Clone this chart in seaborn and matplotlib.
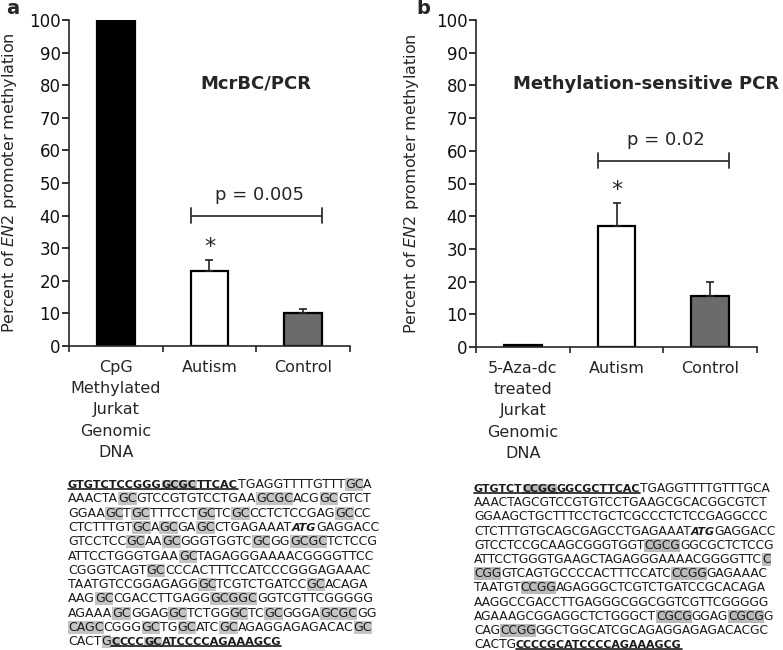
import numpy as np
import pandas as pd
import matplotlib
matplotlib.use('Agg')
import matplotlib.pyplot as plt
import seaborn as sns
from matplotlib.lines import Line2D
from matplotlib.transforms import IdentityTransform

# panel a : McrBC/PCR
cats_a = ['CpG\nMethylated\nJurkat\nGenomic\nDNA', 'Autism', 'Control']
vals_a = [100, 23, 10]
errs_a = [0, 3.5, 1.5]

# panel b : methylation-sensitive PCR
cats_b = ['5-Aza-dc\ntreated\nJurkat\nGenomic\nDNA', 'Autism', 'Control']
vals_b = [0.6, 37, 15.5]
errs_b = [0, 7, 4.5]

bar_colors = ['#000000', '#ffffff', '#6b6b6b']
yticks = [0, 10, 20, 30, 40, 50, 60, 70, 80, 90, 100]

# sequences: [..] shaded, _.._ bold underlined primer, *..* bold italic
seq_a = [
    '_GTGTCTCCGGG[GCGC]TTCAC_TGAGGTTTTGTTT[GC]A',
    'AAACTA[GC]GTCCGTGTCCTGAA[GCGC]ACG[GC]GTCT',
    'GGAA[GC]T[GC]TTTCCT[GC]TC[GC]CCTCTCCGAG[GC]CC',
    'CTCTTTGT[GC]A[GC]GA[GC]CTGAGAAAT*ATG*GAGGACC',
    'GTCCTCC[GC]AA[GC]GGGTGGTC[GC]GG[GCGC]TCTCCG',
    'ATTCCTGGGTGAA[GC]TAGAGGGAAAACGGGGTTCC',
    'CGGGTCAGT[GC]CCCACTTTCCATCCCGGGAGAAAC',
    'TAATGTCCGGAGAGG[GC]TCGTCTGATCC[GC]ACAGA',
    'AAG[GC]CGACCTTGAGG[GCGGC]GGTCGTTCGGGGG',
    'AGAAA[GC]GGAG[GC]TCTGG[GC]TC[GC]GGGA[GCGC]GG',
    '[CAGC]CGGG[GC]TG[GC]ATC[GC]AGAGGAGAGACAC[GC]',
    'CACT[G_C]CCC[GC]ATCCCCAGAAAGCG_',
]
seq_b = [
    '_GTGTCT[CCGG]GGCGCTTCAC_TGAGGTTTTGTTTGCA',
    'AAACTAGCGTCCGTGTCCTGAAGCGCACGGCGTCT',
    'GGAAGCTGCTTTCCTGCTCGCCCTCTCCGAGGCCC',
    'CTCTTTGTGCAGCGAGCCTGAGAAAT*ATG*GAGGACC',
    'GTCCTCCGCAAGCGGGTGGT[CGCG]GGCGCTCTCCG',
    'ATTCCTGGGTGAAGCTAGAGGGAAAACGGGGTTC[C]',
    '[CGG]GTCAGTGCCCCACTTTCCATC[CCGG]GAGAAAC',
    'TAATGT[CCGG]AGAGGGCTCGTCTGATCCGCACAGA',
    'AAGGCCGACCTTGAGGGCGGCGGTCGTTCGGGGG',
    'AGAAAGCGGAGGCTCTGGGCT[CGCG]GGAG[CGCG]G',
    'CAG[CCGG]GGCTGGCATCGCAGAGGAGAGACACGC',
    'CACTG_CCCCGCATCCCCAGAAAGCG_',
]

sns.set_style('ticks')
plt.rcParams['font.family'] = ['DejaVu Sans']

W, H = 783, 650
fig = plt.figure(figsize=(W / 100, H / 100), dpi=100)
ax_txt = fig.add_axes([0, 0, 1, 1])
ax_txt.axis('off')
ax_txt.set_xlim(0, W)
ax_txt.set_ylim(0, H)


def plot_panel(ax, cats, vals, errs, title, title_x, ptext, br_y, star_y, ylab_x):
    df = pd.DataFrame({'group': cats, 'value': vals})
    pal = dict(zip(cats, bar_colors))
    sns.barplot(data=df, x='group', y='value', hue='group', palette=pal, order=cats,
                width=0.4, edgecolor='black', linewidth=1.6, legend=False, ax=ax)
    idx = [i for i, e in enumerate(errs) if e > 0]
    ax.errorbar(idx, [vals[i] for i in idx], yerr=[[0] * len(idx), [errs[i] for i in idx]],
                fmt='none', ecolor='#222222', elinewidth=1.2, capsize=3, capthick=1.2)
    ax.set_xlim(-0.5, 2.5)
    ax.set_ylim(0, 100)
    ax.set_yticks(yticks)
    ax.tick_params(axis='y', labelsize=12, length=5, width=1.2, pad=1, colors='#111111')
    ax.set_xticks([0, 1, 2])
    ax.set_xticklabels(cats, linespacing=1.52, fontsize=11.5)
    ax.set_xticks([-0.5, 0.5, 1.5, 2.5], minor=True)
    ax.tick_params(axis='x', which='minor', length=4, width=1.2)
    ax.tick_params(axis='x', which='major', length=0, pad=10)
    ax.set_xlabel('')
    ax.set_ylabel(r'Percent of $\it{EN2}$ promoter methylation', fontsize=11.5)
    ax.yaxis.set_label_coords(ylab_x, 0.5)
    sns.despine(ax=ax)
    for s in ['left', 'bottom']:
        ax.spines[s].set_linewidth(1.2)
    ax.text(title_x, 80.5, title, ha='center', va='center', fontweight='bold', fontsize=13)
    # significance bracket
    x1, x2 = 0.8, 2.2
    ax.plot([x1, x2], [br_y, br_y], color='#333333', lw=1.3)
    ax.plot([x1, x1], [br_y - 2.3, br_y + 2.3], color='#333333', lw=1.3)
    ax.plot([x2, x2], [br_y - 2.3, br_y + 2.3], color='#333333', lw=1.3)
    ax.text(1.53, br_y + 3.5, ptext, ha='center', va='bottom', fontsize=13)
    ax.text(1, star_y, '*', ha='center', va='center', fontsize=16)


ax_a = fig.add_axes([69 / W, 1 - 346 / H, 281 / W, 326 / H])
plot_panel(ax_a, cats_a, vals_a, errs_a, 'McrBC/PCR', 1.5, 'p = 0.005', 40, 30.5, -0.178)
ax_b = fig.add_axes([476 / W, 1 - 347 / H, 281 / W, 327 / H])
plot_panel(ax_b, cats_b, vals_b, errs_b, 'Methylation-sensitive PCR', 1.32, 'p = 0.02', 57, 48, -0.195)

fig.text(6 / W, 1 - 14 / H, 'a', fontweight='bold', fontsize=14, va='baseline')
fig.text(416 / W, 1 - 14 / H, 'b', fontweight='bold', fontsize=14, va='baseline')


def parse_line(line):
    segs = []
    cur = ''
    hl = ul = it = False
    for ch in line:
        if ch in '[]_*':
            if cur:
                segs.append((cur, hl, ul, it))
                cur = ''
            if ch == '[':
                hl = True
            elif ch == ']':
                hl = False
            elif ch == '_':
                ul = not ul
            else:
                it = not it
        else:
            cur += ch
    if cur:
        segs.append((cur, hl, ul, it))
    return segs


def draw_sequence(lines, x0, y_top, dy, size, hl_color):
    under = []
    for i, line in enumerate(lines):
        y = H - (y_top + i * dy)
        prev = None
        for txt, hl, ul, it in parse_line(line):
            bold = ul or it
            kw = dict(fontsize=size * 0.9 if bold else size, color='#1a1a1a',
                      va='baseline', ha='left',
                      fontweight='bold' if bold else 'normal',
                      fontstyle='italic' if it else 'normal', annotation_clip=False)
            if hl:
                kw['bbox'] = dict(boxstyle='square,pad=0', fc=hl_color, ec='none')
            if prev is None:
                t = ax_txt.annotate(txt, xy=(x0, y), xycoords='figure pixels', **kw)
            else:
                t = ax_txt.annotate(txt, xy=(1, y), xycoords=(prev, 'figure pixels'), **kw)
            if ul:
                under.append(t)
            prev = t
    return under


under = draw_sequence(seq_a, 68, 488, 14.3, 9.0, '#c4c4c4')
under += draw_sequence(seq_b, 474, 492, 14.2, 8.8, '#bababa')

fig.canvas.draw()
for t in under:
    bb = t.get_window_extent()
    fig.add_artist(Line2D([bb.x0, bb.x1], [bb.y0 + 1.5, bb.y0 + 1.5], color='#1a1a1a',
                          lw=1.2, transform=IdentityTransform()))

fig.savefig('out.png', dpi=100)
